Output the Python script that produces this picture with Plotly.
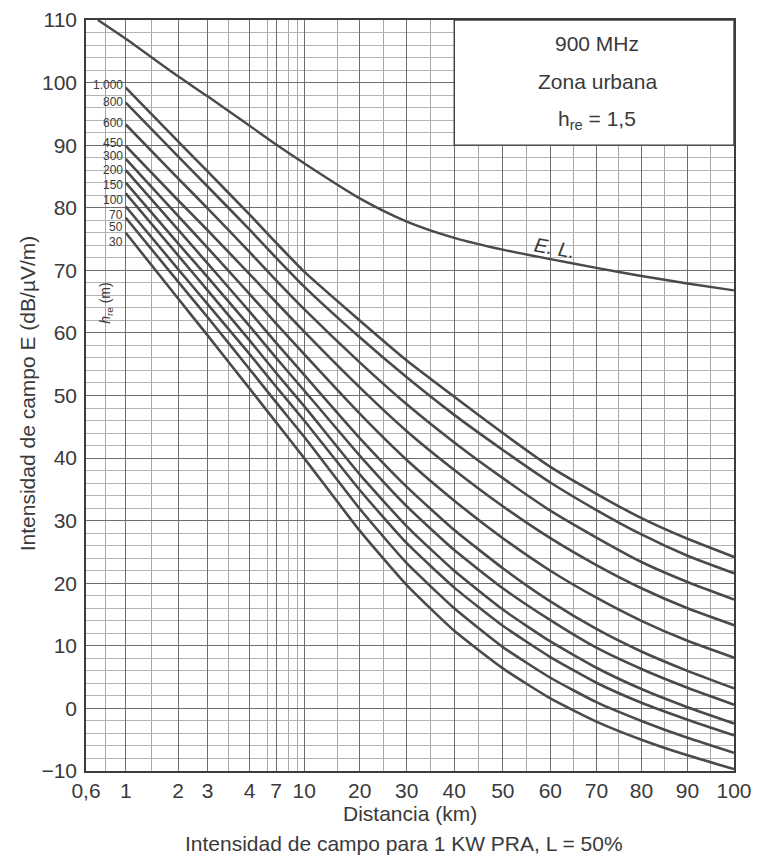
import numpy as np
import plotly.graph_objects as go

# ---------------- data ----------------
# custom distance scale of the chart (km -> axis units)
SCALE_KM = [0.6, 1, 2, 3, 4, 7, 10, 20, 30, 40, 50, 60, 70, 80, 90, 100]
SCALE_POS = [0, 39.7, 92, 121.5, 163.5, 190, 218, 273.5, 320.5, 368, 416.5, 464, 510, 555, 601, 647.5]
TICK_TEXT = ["0,6", "1", "2", "3", "4", "7", "10", "20", "30", "40", "50", "60", "70", "80", "90", "100"]
MINOR_KM = [0.8, 1.5, 3.5, 6, 8.3, 9.3, 16, 25, 35, 45, 55, 65, 75, 85, 95]

DIST = [1, 2, 3, 4, 7, 10, 20, 30, 40, 50, 60, 70, 80, 90, 100]

H_LABELS = ["1.000", "800", "600", "450", "300", "200", "150", "100", "70", "50", "30"]
H_LABEL_Y = [99.6, 96.9, 93.5, 90.3, 88.2, 86.0, 83.6, 81.2, 78.8, 77.0, 74.6]
E_1000 = [99.2, 90.6, 85.8, 78.9, 74.4, 69.8, 62.0, 55.6, 49.8, 44.0, 38.6, 34.3, 30.4, 27.1, 24.2]
E_800 = [96.8, 88.2, 83.4, 76.5, 72.0, 67.4, 59.3, 52.9, 46.9, 41.3, 36.1, 31.7, 27.8, 24.4, 21.6]
E_600 = [93.3, 84.7, 79.9, 72.9, 68.4, 63.8, 55.3, 48.6, 42.5, 36.8, 31.6, 27.3, 23.4, 20.2, 17.4]
E_450 = [89.9, 81.2, 76.4, 69.4, 64.9, 60.2, 51.3, 44.3, 38.1, 32.3, 27.2, 22.9, 19.2, 16.0, 13.3]
E_300 = [87.8, 78.7, 73.6, 66.2, 61.5, 56.6, 47.1, 39.7, 33.2, 27.2, 22.0, 17.7, 14.0, 10.8, 8.1]
E_200 = [86.0, 76.5, 71.1, 63.4, 58.4, 53.3, 43.2, 35.4, 28.5, 22.4, 17.1, 12.7, 9.1, 6.0, 3.2]
E_150 = [84.0, 74.3, 68.9, 61.1, 56.0, 50.8, 40.4, 32.3, 25.3, 19.2, 14.1, 9.7, 6.3, 3.3, 0.6]
E_100 = [82.3, 72.4, 66.8, 58.8, 53.6, 48.3, 37.4, 29.1, 22.0, 15.8, 10.7, 6.5, 3.1, 0.2, -2.4]
E_70 = [80.2, 70.2, 64.6, 56.6, 51.4, 46.0, 34.9, 26.4, 19.3, 13.2, 8.2, 4.1, 0.9, -1.8, -4.3]
E_50 = [78.4, 68.2, 62.5, 54.2, 48.9, 43.4, 31.9, 23.2, 16.0, 9.8, 4.9, 1.0, -2.0, -4.7, -7.1]
E_30 = [76.0, 65.5, 59.6, 51.1, 45.7, 40.0, 28.4, 19.7, 12.4, 6.4, 1.6, -2.1, -5.0, -7.5, -9.7]
CURVES = [E_1000, E_800, E_600, E_450, E_300, E_200, E_150, E_100, E_70, E_50, E_30]

EL_DIST = [0.72, 1, 2, 3, 4, 7, 10, 20, 30, 40, 50, 60, 70, 80, 90, 100]
EL_VALS = [110, 107.0, 101.0, 97.8, 93.1, 90.1, 87.1, 81.5, 77.8, 75.2, 73.3, 71.8, 70.4, 69.1, 67.9, 66.8]

Y_TICKS = [110, 100, 90, 80, 70, 60, 50, 40, 30, 20, 10, 0, -10]


def xmap(km):
    return np.interp(np.asarray(km, dtype=float), SCALE_KM, SCALE_POS)


FONT = "Liberation Sans, Arial, sans-serif"
TXT = "#3a3a3a"
CURVE = "#4a4a4a"

fig = go.Figure()

for vals in CURVES:
    fig.add_trace(go.Scatter(x=xmap(DIST), y=vals, mode="lines",
                             line=dict(color=CURVE, width=2.6, shape="spline", smoothing=0.5),
                             hoverinfo="skip", showlegend=False))

fig.add_trace(go.Scatter(x=xmap(EL_DIST), y=EL_VALS, mode="lines",
                         line=dict(color=CURVE, width=2.4, shape="spline", smoothing=0.7),
                         hoverinfo="skip", showlegend=False))

# height labels at the start of each curve
for lab, yl in zip(H_LABELS, H_LABEL_Y):
    fig.add_annotation(x=float(xmap(1)) - 1, y=yl, text=lab, showarrow=False,
                       xanchor="right", yanchor="middle",
                       font=dict(family=FONT, size=12, color=TXT))

fig.add_annotation(x=float(xmap(0.8)), y=64.8, text="<i>h</i><sub>re</sub> (m)", showarrow=False,
                   textangle=-90, xanchor="center", yanchor="middle",
                   font=dict(family=FONT, size=14, color=TXT))

# E. L. label
fig.add_annotation(x=float(xmap(61)), y=73.5, text="<i>E. L.</i>", showarrow=False,
                   textangle=10, xanchor="center", yanchor="middle",
                   font=dict(family=FONT, size=20, color=TXT))

# inset box
fig.add_shape(type="rect", xref="x", yref="y", x0=float(xmap(40)), x1=float(xmap(100)), y0=90, y1=110,
              fillcolor="white", line=dict(color="#3c3c3c", width=1.4), layer="above")
xc = float(xmap(40) + xmap(100)) / 2 + 3
for txt, yv in [("900 MHz", 106.3), ("Zona urbana", 100.2), ("h<sub>re</sub> = 1,5", 94.0)]:
    fig.add_annotation(x=xc, y=yv, text=txt, showarrow=False, xanchor="center", yanchor="middle",
                       font=dict(family=FONT, size=21, color=TXT))

# titles
fig.add_annotation(xref="paper", yref="paper", x=-0.091, y=0.503, text="Intensidad de campo E (dB/µV/m)",
                   showarrow=False, textangle=-90, xanchor="center", yanchor="middle",
                   font=dict(family=FONT, size=21, color=TXT))
fig.add_annotation(xref="paper", yref="paper", x=0.5, y=-0.0560, text="Distancia (km)",
                   showarrow=False, xanchor="center", yanchor="middle",
                   font=dict(family=FONT, size=21, color=TXT))
fig.add_annotation(xref="paper", yref="paper", x=0.49, y=-0.0960,
                   text="Intensidad de campo para 1 KW PRA, L = 50%",
                   showarrow=False, xanchor="center", yanchor="middle",
                   font=dict(family=FONT, size=21, color=TXT))

fig.update_layout(
    width=757, height=866,
    margin=dict(l=86, r=23, t=20, b=95, autoexpand=False),
    paper_bgcolor="white", plot_bgcolor="white",
    showlegend=False,
    xaxis=dict(range=[0, SCALE_POS[-1]], tickvals=list(xmap(SCALE_KM)), ticktext=TICK_TEXT,
               automargin=False,
               showgrid=True, gridcolor="#6e6e6e", gridwidth=1.2, zeroline=False,
               showline=True, mirror=True, linecolor="#3c3c3c", linewidth=1.6,
               ticks="", ticklen=0, ticklabelstandoff=0,
               tickfont=dict(family=FONT, size=21, color=TXT),
               minor=dict(tickvals=list(xmap(MINOR_KM)), showgrid=True, gridcolor="#a8a8a8", gridwidth=1)),
    yaxis=dict(range=[-10, 110], tickvals=Y_TICKS,
               ticktext=[("−" + str(-v)) if v < 0 else str(v) for v in Y_TICKS],
               automargin=False,
               showgrid=True, gridcolor="#6e6e6e", gridwidth=1.2, zeroline=False,
               showline=True, mirror=True, linecolor="#3c3c3c", linewidth=1.6,
               ticks="", ticklen=0, ticklabelstandoff=3,
               tickfont=dict(family=FONT, size=21, color=TXT),
               minor=dict(dtick=2, showgrid=True, gridcolor="#b4b4b4", gridwidth=1)),
)

fig.write_html("out.html", config={"displayModeBar": False},
               post_script="document.body.style.margin='0';document.body.style.overflow='hidden';")
